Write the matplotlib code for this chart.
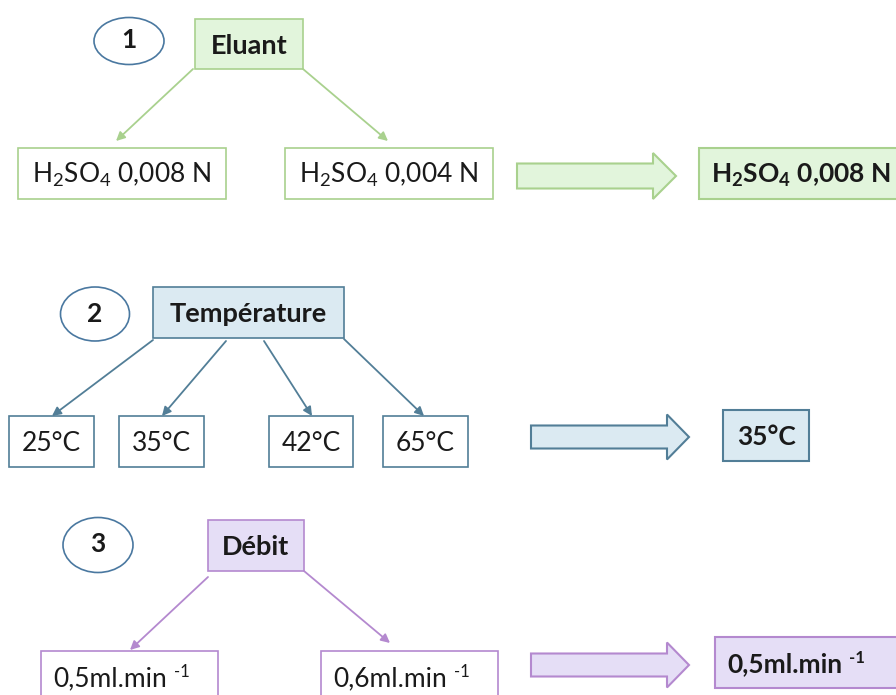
import matplotlib.pyplot as plt
from matplotlib.patches import Rectangle, Ellipse, Polygon

plt.rcParams['font.family'] = ['Lato', 'DejaVu Sans']
plt.rcParams['mathtext.fontset'] = 'custom'
plt.rcParams['mathtext.rm'] = 'Lato'
plt.rcParams['mathtext.it'] = 'Lato'
plt.rcParams['mathtext.bf'] = 'Lato:bold'

# colours per step: (fill, edge)
GREEN = ('#e2f5dc', '#a9d18e')
BLUE = ('#dbeaf2', '#527e97')
PURPLE = ('#e5def6', '#b489cf')
OVAL_EDGE = '#4a78a0'
TXT = '#1a1a1a'

# step number, title, options, chosen value
step_nums = ['1', '2', '3']
titles = ['Eluant', 'Température', 'Débit']
options_1 = [r'H$_2$SO$_4$ 0,008 N', r'H$_2$SO$_4$ 0,004 N']
options_2 = ['25°C', '35°C', '42°C', '65°C']
options_3 = ['0,5ml.min', '0,6ml.min']
chosen = [r'H$_\mathbf{2}$SO$_\mathbf{4}$ 0,008 N', '35°C', '0,5ml.min']
unit_sup = '-1'

# layout (pixels, y down)
ovals = [(129, 41, 70, 47), (95, 314, 69, 54), (98, 545, 70, 55)]
title_boxes = [(195, 19, 108, 50), (153, 287, 191, 51), (208, 520, 96, 51)]
opt_boxes_1 = [(18, 148, 208, 51), (285, 148, 208, 51)]
opt_boxes_2 = [(9, 416, 85, 51), (119, 416, 85, 51), (269, 416, 84, 51), (383, 416, 85, 51)]
opt_boxes_3 = [(41, 651, 177, 60), (321, 651, 177, 60)]
arrows_1 = [((193, 69), (116, 141)), ((303, 69), (388, 141))]
arrows_2 = [((153, 340), (52, 416)), ((226, 341), (162, 416)),
            ((264, 341), (312, 416)), ((344, 339), (424, 416))]
arrows_3 = [((208, 577), (130, 650)), ((304, 571), (390, 643))]
# block arrow: x0, x_head, x_tip, y_mid, shaft half height, head half height
block_arrows = [(517, 653, 676, 176, 12.5, 23), (531, 667, 689, 437, 11.5, 22.5),
                (531, 667, 689, 665, 11.5, 22.5)]
result_boxes = [(699, 148, 205, 51), (723, 410, 86, 51), (715, 637, 185, 51)]

fig = plt.figure(figsize=(8.96, 6.95), dpi=100)
ax = fig.add_axes([0, 0, 1, 1])
ax.set_xlim(0, 896)
ax.set_ylim(695, 0)
ax.axis('off')
renderer = fig.canvas.get_renderer()


def box(b, text, fill, edge, bold=False, size=19, lw=1.2, left=None, sup=None):
    x, y, w, h = b
    ax.add_patch(Rectangle((x, y), w, h, facecolor=fill, edgecolor=edge, lw=lw))
    cap = 0.72 * size * 100 / 72
    base = y + min(h, 51) / 2 + cap / 2
    weight = 'bold' if bold else 'normal'
    if left is None:
        t = ax.text(x + w / 2, base, text, ha='center', va='baseline', fontsize=size,
                    fontweight=weight, color=TXT)
    else:
        t = ax.text(x + left, base, text, ha='left', va='baseline', fontsize=size,
                    fontweight=weight, color=TXT)
    if sup is not None:
        bb = t.get_window_extent(renderer)
        xe = ax.transData.inverted().transform((bb.x1, bb.y1))[0]
        ax.text(xe + 7, base - 9, sup, ha='left', va='baseline', fontsize=12,
                fontweight=weight, color=TXT)


def block_arrow(a, fill, edge):
    x0, xh, xt, ym, sh, hh = a
    pts = [(x0, ym - sh), (xh, ym - sh), (xh, ym - hh), (xt, ym),
           (xh, ym + hh), (xh, ym + sh), (x0, ym + sh)]
    ax.add_patch(Polygon(pts, closed=True, facecolor=fill, edgecolor=edge, lw=1.5))


def arrow(start, end, color):
    ax.annotate('', xy=end, xytext=start,
                arrowprops=dict(arrowstyle='-|>', color=color, lw=1.3,
                                mutation_scale=13, shrinkA=0, shrinkB=0))


colors = [GREEN, BLUE, PURPLE]
opt_boxes = [opt_boxes_1, opt_boxes_2, opt_boxes_3]
options = [options_1, options_2, options_3]
arrows = [arrows_1, arrows_2, arrows_3]

for i in range(3):
    fill, edge = colors[i]
    cx, cy, w, h = ovals[i]
    ax.add_patch(Ellipse((cx, cy), w, h, facecolor='white', edgecolor=OVAL_EDGE, lw=1.2))
    ax.text(cx, cy + 7.5, step_nums[i], ha='center', va='baseline', fontsize=19,
            fontweight='bold', color=TXT)
    box(title_boxes[i], titles[i], fill, edge, bold=True, size=19.5)
    for (s, e) in arrows[i]:
        arrow(s, e, edge)
    for b, t in zip(opt_boxes[i], options[i]):
        if i == 2:
            box(b, t, 'white', edge, left=12, sup=unit_sup)
        else:
            box(b, t, 'white', edge)
    block_arrow(block_arrows[i], fill, edge)

box(result_boxes[0], chosen[0], GREEN[0], GREEN[1], bold=True, left=12, lw=1.5)
box(result_boxes[1], chosen[1], BLUE[0], BLUE[1], bold=True, lw=1.5)
box(result_boxes[2], chosen[2], PURPLE[0], PURPLE[1], bold=True, left=12, lw=1.5, sup=unit_sup)

fig.savefig('out.png', dpi=100)
